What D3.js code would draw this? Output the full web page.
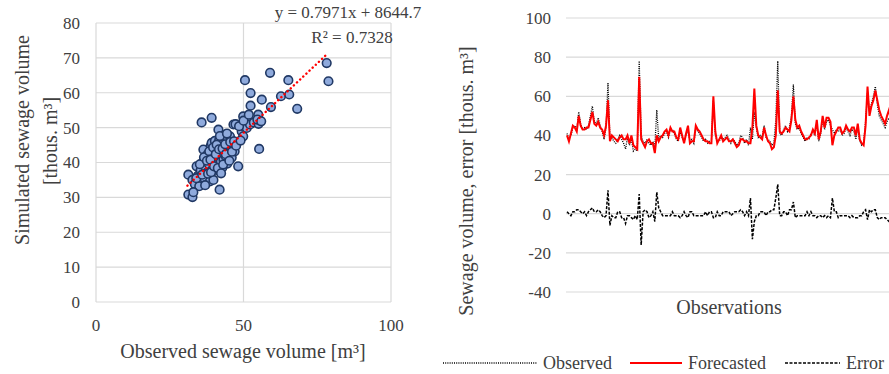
<!DOCTYPE html>
<html>
<head>
<meta charset="utf-8">
<script src="https://cdn.jsdelivr.net/npm/d3@7"></script>
<style>
  body { margin: 0; background: #fff; }
  svg { display: block; font-family: "Liberation Serif", "Times New Roman", serif; }
</style>
</head>
<body>
<svg id="chart" width="889" height="374"></svg>
<script>
// scatter: observed vs simulated (thous. m3)
const obsX = [31.3,31.3,32.7,32.7,33.5,34.1,34.5,35,35.5,35.8,36.4,36.2,36.8,37.2,37.5,37.8,38.1,38.3,38.6,38.9,
  39.2,39.2,39.4,39.6,39.8,40.1,40.3,40.5,40.8,41.0,41.2,41.5,41.6,41.9,41.8,42.1,42.3,42.6,42.8,43.2,
  43.4,43.6,43.9,44.2,44.5,44.7,45.0,45.4,45.7,46.0,46.3,46.6,46.6,47.0,47.3,48.2,49.4,49.9,49.9,50.5,
  50.3,51.1,51.5,52.2,52.4,52.4,53.5,55,55.1,55.3,56.2,59,59.3,62.7,65.2,65.5,68.2,78.2,78.8,
  33.0,34.0,35.2,36.0,36.6,37.0,37.6,38.0,38.4,38.8,39.0,39.7,40.0,40.6,40.9,41.3,41.7,42.0,42.4,42.9,
  43.1,43.8,44.0,44.4,45.2,45.5,46.1,46.8,47.5,48.5,49.0,50.0,51.8,54.7,56.0];
const simY = [36.5,30.8,30.1,35,33.8,38.9,36.2,33.2,37.8,51.5,43.7,40.1,35.4,38.6,37,42.3,41.8,39.5,34.6,44.8,
  52.8,45.6,42.1,38.2,35,40.7,46.2,43.5,37.9,41.2,44.1,49.4,39.8,32.2,46.6,42.7,40.2,45.1,38.5,40.8,
  43.6,47.9,41.9,44.5,39.7,46.8,42.8,47.5,44.2,41.4,45.6,50.9,44.6,43.2,51,38.9,48.9,53.2,47.5,63.6,
  50.2,49.9,51.8,50.9,59.9,56.3,51.5,53.7,51.1,43.9,58,65.7,55.9,59,63.6,59.5,55.4,68.5,63.3,
  31.5,35.5,39.5,36.5,41.5,33.5,40.5,36.8,43.2,40.8,37.2,44.3,38.9,42.4,45.1,38.4,43.8,47.6,36.9,44.0,
  39.4,45.2,42.4,48.3,40.5,45.9,43.1,46.1,44.8,50.4,46.3,52.0,53.7,52.3,51.8];
const trendX = [31, 78];          // extent of the fitted line
const slope = 0.7971, intercept = 8.6447;

const xTicksL = [0, 50, 100];
const yTicksL = [0, 10, 20, 30, 40, 50, 60, 70, 80];

// time series (thous. m3), one value per observation
const observed = [41,38,40,44,45,43,52,46,43,44, 43,45,50,55,47,46,49,45,42,38,
  44,67,38,39,37,36,38,40,38,36, 33,39,35,38,32,33,32,78,40,37,
  36,38,36,35,37,34,53,38,40,39, 41,42,39,43,43,41,38,37,42,39,
  37,40,43,37,38,36,44,42,41,39, 37,38,36,37,37,58,40,37,37,39,
  38,39,40,38,36,38,37,35,36,40, 39,36,38,35,44,38,52,44,39,40,
  39,45,39,38,37,35,36,48,78,41, 40,43,45,42,44,50,66,46,43,44,
  41,39,37,39,38,41,42,40,46,37, 41,48,43,47,48,45,43,41,43,42,
  43,40,41,44,42,40,43,42,38,44, 37,35,36,47,62,52,56,60,65,56,
  50,48,46,44,47,49,46];
const forecasted = [40,37,41,45,44,42,50,45,43,43, 44,44,48,52,46,45,47,44,43,40,
  45,58,37,40,39,38,37,39,40,38, 38,40,36,40,35,34,33,70,38,36,
  34,37,38,36,36,31,40,37,39,40, 42,43,40,44,42,42,39,38,44,40,
  36,41,45,36,37,37,45,43,42,40, 38,37,37,36,36,60,42,36,38,40,
  37,38,39,37,37,38,36,34,35,38, 38,37,37,36,36,44,64,45,40,39,
  38,44,40,37,36,33,34,40,63,42, 41,42,44,43,42,48,60,48,44,45,
  42,40,38,38,39,40,43,41,48,38, 42,50,44,49,49,47,35,40,42,44,
  44,41,42,45,43,42,44,44,40,46, 38,36,35,45,65,50,55,58,63,58,
  53,50,48,46,50,53,48];
const errorVals = [1,0,-1,1,1,2,2,1,0,1, -1,1,2,3,1,1,2,1,-1,-2,
  -1,12,-6,-1,-2,-2,1,1,-2,-2, -5,-1,-1,-2,-3,-1,-3,10,-16,1,
  2,1,-2,-1,1,-4,11,3,1,-1, -1,-1,-1,-1,1,-1,-1,-1,-2,-1,
  1,-1,-2,1,1,-1,-1,-1,-1,-1, -1,1,-1,1,1,-2,-2,1,-1,-1,
  1,1,1,1,-1,0,1,1,1,2, 1,-1,1,-1,8,-13,-4,-1,-1,1,
  1,1,-1,1,1,2,2,8,15,-1, -1,1,1,-1,2,2,6,-2,-1,-1,
  -1,-1,-1,1,-1,1,-1,-1,-2,-1, -1,-2,-1,-2,-1,-2,8,1,1,-2,
  -1,-1,-1,-1,-1,-2,-1,-2,-2,-2, -1,-1,1,2,-3,2,1,2,2,-2,
  -3,-2,-2,-2,-3,-4,-2];
const yTicksR = [-40, -20, 0, 20, 40, 60, 80, 100];

const svg = d3.select('#chart');
const grid = '#d9d9d9';

// ---------- left: scatter ----------
const xL = d3.scaleLinear().domain([0, 100]).range([96, 391]);
const yL = d3.scaleLinear().domain([0, 80]).range([302, 23]);

const left = svg.append('g');
left.append('g').selectAll('line').data(yTicksL).enter().append('line')
    .attr('x1', xL(0)).attr('x2', xL(100))
    .attr('y1', d => yL(d)).attr('y2', d => yL(d))
    .attr('stroke', grid).attr('stroke-width', 1.2);
left.append('g').selectAll('line').data(xTicksL).enter().append('line')
    .attr('x1', d => xL(d)).attr('x2', d => xL(d))
    .attr('y1', yL(0)).attr('y2', yL(80))
    .attr('stroke', grid).attr('stroke-width', 1.2);

left.append('g').selectAll('text').data(yTicksL).enter().append('text')
    .attr('x', 80).attr('y', d => yL(d)).attr('dy', '0.35em')
    .attr('text-anchor', 'end').attr('font-size', 17).attr('fill', '#404040')
    .text(d => d);
left.append('g').selectAll('text').data(xTicksL).enter().append('text')
    .attr('x', d => xL(d)).attr('y', 331)
    .attr('text-anchor', 'middle').attr('font-size', 17).attr('fill', '#404040')
    .text(d => d);

left.append('g').selectAll('circle')
    .data(d3.zip(obsX, simY)).enter().append('circle')
    .attr('cx', d => xL(d[0])).attr('cy', d => yL(d[1])).attr('r', 4.3)
    .attr('fill', '#8faadc').attr('stroke', '#203864').attr('stroke-width', 1.6);

left.append('line')
    .attr('x1', xL(trendX[0])).attr('y1', yL(slope * trendX[0] + intercept))
    .attr('x2', xL(trendX[1])).attr('y2', yL(slope * trendX[1] + intercept))
    .attr('stroke', '#ff0000').attr('stroke-width', 2.4)
    .attr('stroke-linecap', 'round').attr('stroke-dasharray', '0.1,4.2');

left.append('text').attr('x', 348).attr('y', 18).attr('text-anchor', 'middle')
    .attr('font-size', 17).attr('fill', '#404040').text('y = 0.7971x + 8644.7');
left.append('text').attr('x', 352).attr('y', 43).attr('text-anchor', 'middle')
    .attr('font-size', 17).attr('fill', '#404040').text('R² = 0.7328');

left.append('text').attr('x', 243).attr('y', 358).attr('text-anchor', 'middle')
    .attr('font-size', 20).attr('fill', '#404040').text('Observed sewage volume [m³]');
left.append('text').attr('transform', 'translate(22,140) rotate(-90)')
    .attr('text-anchor', 'middle').attr('dy', '0.35em')
    .attr('font-size', 20).attr('fill', '#404040').text('Simulated sewage volume');
left.append('text').attr('transform', 'translate(50,141) rotate(-90)')
    .attr('text-anchor', 'middle').attr('dy', '0.35em')
    .attr('font-size', 20).attr('fill', '#404040').text('[thous. m³]');

// ---------- right: time series ----------
const xR = d3.scaleLinear().domain([0, 165]).range([567, 889]);
const yR = d3.scaleLinear().domain([-40, 100]).range([292, 18]);

const right = svg.append('g');
right.append('g').selectAll('line').data(yTicksR).enter().append('line')
    .attr('x1', 566).attr('x2', 889)
    .attr('y1', d => yR(d)).attr('y2', d => yR(d))
    .attr('stroke', grid).attr('stroke-width', 1.2);
right.append('g').selectAll('text').data(yTicksR).enter().append('text')
    .attr('x', 551).attr('y', d => yR(d)).attr('dy', '0.35em')
    .attr('text-anchor', 'end').attr('font-size', 17).attr('fill', '#404040')
    .text(d => d < 0 ? '-' + Math.abs(d) : d);

const line = d3.line().x((d, i) => xR(i)).y(d => yR(d));
right.append('path').datum(observed).attr('d', line).attr('fill', 'none')
    .attr('stroke', '#000').attr('stroke-width', 1.3).attr('stroke-dasharray', '1,1.2');
right.append('path').datum(forecasted).attr('d', line).attr('fill', 'none')
    .attr('stroke', '#ff0000').attr('stroke-width', 2);
right.append('path').datum(errorVals).attr('d', line).attr('fill', 'none')
    .attr('stroke', '#000').attr('stroke-width', 1.5).attr('stroke-dasharray', '3,1.5');

right.append('text').attr('x', 729).attr('y', 314).attr('text-anchor', 'middle')
    .attr('font-size', 20).attr('fill', '#404040').text('Observations');
right.append('text').attr('transform', 'translate(466,181) rotate(-90)')
    .attr('text-anchor', 'middle').attr('dy', '0.35em')
    .attr('font-size', 20).attr('fill', '#404040').text('Sewage volume,  error [thous. m³]');

// legend
const legend = [
  {name: 'Observed', x1: 443, x2: 537, color: '#000', width: 1.3, dash: '1,1.2'},
  {name: 'Forecasted', x1: 630, x2: 682, color: '#ff0000', width: 2, dash: null},
  {name: 'Error', x1: 785, x2: 840, color: '#000', width: 1.5, dash: '3,1.5'}
];
const lg = right.append('g').selectAll('g').data(legend).enter().append('g');
lg.append('line').attr('x1', d => d.x1).attr('x2', d => d.x2).attr('y1', 363).attr('y2', 363)
    .attr('stroke', d => d.color).attr('stroke-width', d => d.width)
    .attr('stroke-dasharray', d => d.dash);
lg.append('text').attr('x', d => d.x2 + 6).attr('y', 369)
    .attr('font-size', 18).attr('fill', '#404040').text(d => d.name);
</script>
</body>
</html>
